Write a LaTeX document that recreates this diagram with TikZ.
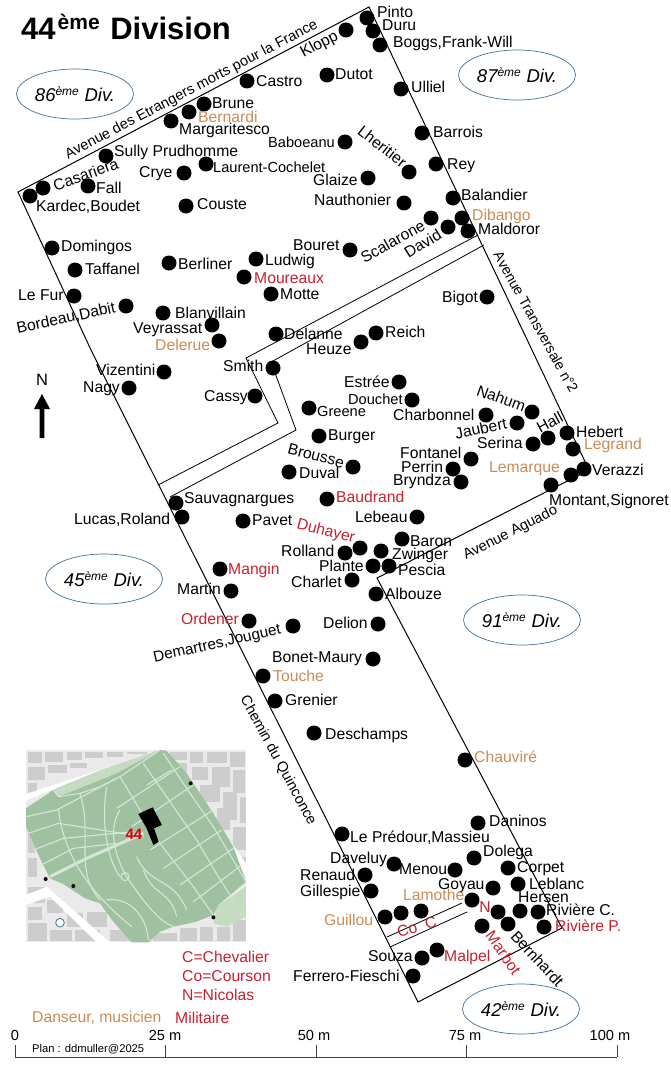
\documentclass[tikz,border=0pt]{standalone}
\usepackage{fontspec}
\setmainfont{Liberation Sans}
\usetikzlibrary{shapes.geometric}
\definecolor{ora}{HTML}{CC8B55}
\definecolor{rd}{HTML}{C8202F}
\definecolor{ell}{HTML}{41719C}
\definecolor{mapbg}{HTML}{EAEAEA}
\definecolor{mapbl}{HTML}{CDCDCD}
\definecolor{park}{HTML}{9FC1A0}
\definecolor{parkl}{HTML}{D6E6D6}
\definecolor{lawn}{HTML}{C6DCC2}
\newcounter{lab}
\newcommand{\gd}[3]{\node[gdot] (#1) at (#2,#3) {};}
\newcommand{\tl}[4][]{\stepcounter{lab}\node[lab,#1] (t\thelab) at (#2,#3) {#4};}
\newcommand{\tr}[5][]{\stepcounter{lab}\node[lab,anchor=center,rotate=#4,#1] (t\thelab) at (#2,#3) {#5};}
\newcommand{\dv}[4]{\node[divell] (#1) at (#2,#3) {\fontsize{18.5}{20}\selectfont\itshape #4\textsuperscript{\fontsize{12}{12}\selectfont ème} Div.};}
\newcommand{\smf}{\fontsize{14.6}{16}\selectfont}
\tikzset{
 gdot/.style={circle,fill=black,draw=none,minimum size=15pt,inner sep=0pt},
 lab/.style={anchor=west,inner sep=0pt,text height=11pt,text depth=1pt,font=\fontsize{15.7}{17}\selectfont,black},
 or/.style={text=ora},
 re/.style={text=rd},
 outl/.style={draw=black,line width=1pt,line join=miter},
 thintwo/.style={draw=black,line width=.8pt},
 divell/.style={ellipse,draw=ell,line width=.7pt,minimum width=117pt,minimum height=50pt,inner sep=0pt},
 mp/.style={draw=parkl,line width=1.1pt},
 blk/.style={fill=mapbl,draw=none},
}
\begin{document}
\begin{tikzpicture}[x=1pt,y=-1pt]
\useasboundingbox (0,0) rectangle (671,1070);
% outline
\draw[outl] (18,192) -- (369,7) -- (589,470) -- (377,578) -- (562,928) -- (418,1002) -- (91,350) -- cycle;
\draw[thintwo] (478,235) -- (246,358) -- (278,423) -- (158,485);
\draw[thintwo] (484,245) -- (271,362) -- (296,430) -- (170,497);
\draw[thintwo] (387,937) -- (462,903);
\draw[thintwo] (390,947) -- (467,912);
% map
\begin{scope}[shift={(0,730)},scale=0.33333]
\fill[mapbg] (78,60) rectangle (738,637);
\foreach \a/\b/\c/\d in {85/65/125/100,135/65/190/95,200/65/245/90,255/65/310/85,320/65/370/82,380/65/440/72,85/110/135/150,145/105/200/130,210/100/260/115,85/160/110/190,510/65/560/90,570/65/610/100,520/100/560/125,620/65/680/100,690/65/735/110,575/110/625/150,635/110/690/170,700/120/735/190,600/165/660/215,670/185/710/270,720/200/738/280,650/235/690/300,700/290/738/360,85/310/105/370,85/385/110/440,715/380/738/430,85/470/135/520,85/530/125/570,140/510/190/550,85/580/140/632,150/600/215/632,200/550/250/590,225/600/300/632,260/545/320/590,330/600/390/632,460/610/530/632,540/595/590/632,600/590/640/632,650/590/690/632,700/570/738/632}
  \fill[blk] (\a,\b) rectangle (\c,\d);
\fill[white] (78,192) -- (480,60) -- (495,60) -- (300,120) -- (78,212) -- cycle;
\fill[white] (78,495) -- (140,470) -- (330,637) -- (290,637) -- (150,500) -- (78,525) -- cycle;
\fill[white] (500,60) -- (738,400) -- (738,440) -- (490,70) -- cycle;
\fill[lawn] (650,530) -- (738,470) -- (738,560) -- (680,590) -- (640,580) -- cycle;
\fill[park] (78,235) -- (160,180) -- (310,118) -- (480,60) -- (500,62) -- (560,130) -- (640,250) -- (700,350) -- (738,455) -- (655,525) -- (640,555) -- (590,575) -- (520,590) -- (480,605) -- (445,637) -- (395,637) -- (340,575) -- (300,520) -- (255,505) -- (190,462) -- (150,445) -- (120,385) -- (78,290) -- cycle;
\fill[lawn] (160,180) -- (310,118) -- (480,60) -- (345,132) -- (175,200) -- cycle;
\draw[mp] (160,180) -- (175,200) -- (240,190) -- (300,170) -- (360,140) -- (480,60);
\draw[mp] (360,140) -- (480,340) -- (580,470) -- (640,555);
\draw[mp] (430,100) -- (590,330) -- (655,440) -- (700,510);
\draw[mp] (490,70) -- (570,190) -- (640,290) -- (738,455);
\draw[mp] (350,235) -- (540,110);
\draw[mp] (395,290) -- (580,165);
\draw[mp] (450,360) -- (640,240);
\draw[mp] (490,415) -- (665,300);
\draw[mp] (540,465) -- (700,355);
\draw[mp] (580,515) -- (725,405);
\draw[mp] (440,165) -- (515,120);
\draw[mp] (78,260) -- (170,240) -- (350,145);
\draw[mp] (85,310) -- (175,280) -- (430,320);
\draw[mp] (100,360) -- (190,325) -- (400,305);
\draw[mp] (115,410) -- (220,355) -- (350,340);
\draw[mp,line width=3pt] (150,440) -- (260,385) -- (430,310);
\draw[mp] (175,235) .. controls (190,370) and (260,480) .. (395,590);
\draw[mp] (240,190) .. controls (280,320) and (220,420) .. (300,510);
\draw[mp] (320,170) .. controls (300,300) and (330,400) .. (360,440);
\draw[mp] (360,240) .. controls (320,300) and (350,390) .. (380,440);
\draw[mp] (380,440) .. controls (420,500) and (470,570) .. (520,590);
\draw[mp] (410,380) .. controls (450,470) and (520,440) .. (560,540);
\draw[mp] (430,420) .. controls (460,500) and (510,480) .. (530,560);
\draw[mp] (320,510) .. controls (390,500) and (440,560) .. (445,630);
\draw[mp] (375,440) circle (12);
\fill[black] (415,252) -- (458,232) -- (486,285) -- (462,295) -- (476,335) -- (460,345) -- (440,295) -- cycle;
\foreach \p in {(572,160),(137,447),(220,468),(640,562)} \fill[black] \p circle (6);
\fill[white] (180,578) circle (13);
\draw[ell,line width=.8pt] (180,578) circle (13);
\end{scope}
\node[font=\fontsize{15}{16}\selectfont\bfseries,text=red!85!black,inner sep=0pt] (m44) at (134,834) {44};
% title
\node[anchor=base west,inner sep=0pt,font=\fontsize{31}{33}\selectfont\bfseries] (title) at (21,40) {44\hspace{2pt}\raisebox{10pt}{\fontsize{21}{22}\selectfont ème}\hspace{2pt} Division};
% ellipses
\dv{d86}{75}{94}{86}
\dv{d87}{517}{75}{87}
\dv{d45}{104}{579}{45}
\dv{d91}{522}{620}{91}
\dv{d42}{521}{1009}{42}
% north
\node[inner sep=0pt,font=\fontsize{16.5}{17}\selectfont] (north) at (42,380) {N};
\coordinate (nt) at (42,394);
\fill[black] (nt) -- (50,409) -- (44.3,409) -- (44.3,438) -- (39.7,438) -- (39.7,409) -- (34,409) -- cycle;
% dots
\gd{a1}{30}{196}\gd{a2}{43}{188}\gd{a3}{88}{186}\gd{a4}{106}{156}\gd{a5}{171}{121}\gd{a6}{189}{112}\gd{a7}{204}{104}\gd{a8}{247}{81}\gd{a9}{327}{75}
\gd{a10}{184}{173}\gd{a11}{206}{164}\gd{a12}{186}{206}\gd{a13}{52}{248}\gd{a14}{75}{270}\gd{a15}{74}{296}\gd{a16}{126}{306}\gd{a17}{169}{263}\gd{a18}{256}{259}\gd{a19}{244}{277}\gd{a20}{271}{294}\gd{a21}{163}{313}\gd{a22}{212}{325}\gd{a23}{219}{341}\gd{a24}{276}{334}
\gd{b1}{367}{18}\gd{b2}{373}{31}\gd{b3}{380}{45}\gd{b4}{346}{30}\gd{b5}{401}{89}\gd{b6}{422}{133}\gd{b7}{436}{164}\gd{b8}{345}{142}\gd{b9}{409}{172}\gd{b10}{368}{178}\gd{b11}{404}{203}\gd{b12}{453}{198}\gd{b13}{431}{218}\gd{b14}{462}{218}\gd{b15}{448}{227}\gd{b16}{468}{231}\gd{b17}{350}{250}\gd{b18}{487}{297}\gd{b19}{376}{333}\gd{b20}{361}{342}
\gd{c1}{164}{372}\gd{c2}{129}{388}\gd{c3}{273}{368}\gd{c4}{255}{396}\gd{c5}{309}{408}\gd{c6}{319}{436}\gd{c7}{289}{472}\gd{c8}{327}{499}\gd{c9}{176}{503}\gd{c10}{182}{517}\gd{c11}{243}{521}\gd{c12}{220}{569}\gd{c13}{231}{591}\gd{c14}{249}{621}\gd{c15}{293}{626}\gd{c16}{263}{676}\gd{c17}{275}{701}\gd{c18}{314}{733}
\gd{e1}{399}{382}\gd{e2}{412}{400}\gd{e3}{486}{415}\gd{e4}{532}{412}\gd{e5}{517}{423}\gd{e6}{548}{438}\gd{e7}{533}{444}\gd{e8}{567}{433}\gd{e9}{573}{449}\gd{e10}{471}{459}\gd{e11}{453}{469}\gd{e12}{461}{482}\gd{e13}{584}{469}\gd{e14}{571}{475}\gd{e15}{551}{485}\gd{e16}{353}{467}\gd{e17}{417}{517}\gd{e18}{402}{539}\gd{e19}{360}{548}\gd{e20}{345}{553}\gd{e21}{381}{551}\gd{e22}{373}{566}\gd{e23}{389}{566}\gd{e24}{352}{580}\gd{e25}{376}{594}\gd{e26}{378}{624}\gd{e27}{373}{659}
\gd{f0}{465}{760}\gd{f1}{478}{823}\gd{f2}{342}{834}\gd{f3}{474}{858}\gd{f4}{508}{868}\gd{f5}{394}{864}\gd{f6}{455}{870}\gd{f7}{365}{875}\gd{f8}{518}{884}\gd{f9}{493}{888}\gd{f10}{371}{891}\gd{f11}{472}{900}\gd{f12}{385}{917}\gd{f13}{401}{913}\gd{f14}{421}{911}\gd{f15}{498}{912}\gd{f16}{520}{911}\gd{f17}{538}{912}\gd{f18}{544}{927}\gd{f19}{482}{926}\gd{f20}{508}{924}\gd{f21}{422}{958}\gd{f22}{437}{950}\gd{f23}{413}{976}
% labels
\tl{256}{82}{Castro}\tl{335}{75}{Dutot}\tl{212}{104}{Brune}\tl[or]{198}{117}{Bernardi}\tl{179}{130}{Margaritesco}\tl[font=\smf]{268}{142}{Baboeanu}\tl{114}{151}{Sully Prudhomme}\tl{139}{172}{Crye}\tl[font=\smf]{213}{167}{Laurent-Cochelet}
\tr{86}{175}{20}{Casariera}\tl{96}{188}{Fall}\tl{36}{206}{Kardec,Boudet}\tl{197}{204}{Couste}\tl{61}{246}{Domingos}\tl{85}{269}{Taffanel}\tl{18}{295}{Le Fur}
\tr{66}{318}{12}{Bordeau,Dabit}\tl{178}{264}{Berliner}\tl{265}{260}{Ludwig}\tl[re]{254}{278}{Moureaux}\tl{280}{294}{Motte}\tl{175}{313}{Blanvillain}\tl{133}{328}{Veyrassat}\tl[or]{155}{345}{Delerue}\tl{284}{334}{Delanne}\tl{306}{349}{Heuze}\tl{293}{245}{Bouret}
\tr[font=\smf]{191}{89}{27.7}{Avenue des Etrangers morts pour la France}
\tl{377}{13}{Pinto}\tl{382}{26}{Duru}\tl{393}{43}{Boggs,Frank-Will}\tr{319}{44}{28}{Klopp}\tl{411}{88}{Ulliel}\tl{433}{132}{Barrois}\tl{447}{164}{Rey}\tr{382}{147}{-38}{Lheritier}\tl{313}{180}{Glaize}\tl{314}{200}{Nauthonier}\tl{461}{195}{Balandier}\tl[or]{472}{215}{Dibango}\tl{478}{229}{Maldoror}\tr{393}{242}{29}{Scalarone}\tr{423}{244}{32}{David}\tl{442}{297}{Bigot}\tl{385}{332}{Reich}
\tr[font=\fontsize{14.2}{16}\selectfont]{536}{322}{-61}{Avenue Transversale n°2}
\tl{96}{370}{Vizentini}\tl{83}{387}{Nagy}\tl{223}{366}{Smith}\tl{204}{396}{Cassy}\tl[font=\smf]{317}{411}{Greene}\tl{328}{435}{Burger}\tr{316}{456}{-15}{Brousse}\tl{299}{473}{Duval}\tl[re]{336}{497}{Baudrand}\tl{184}{498}{Sauvagnargues}\tl{74}{519}{Lucas,Roland}\tl{252}{520}{Pavet}\tr[re]{326}{531}{-14}{Duhayer}\tl{281}{551}{Rolland}\tl[re]{228}{569}{Mangin}\tl{319}{566}{Plante}\tl{291}{582}{Charlet}\tl{177}{589}{Martin}\tl[re]{181}{619}{Ordener}\tr[font=\fontsize{15.3}{17}\selectfont]{217}{643}{12.6}{Demartres,Jouguet}\tl{272}{657}{Bonet-Maury}\tl[or]{273}{676}{Touche}\tl{285}{700}{Grenier}\tr[font=\smf]{279}{760}{-61.5}{Chemin du Quinconce}\tl{325}{734}{Deschamps}
\tl{344}{382}{Estrée}\tl[font=\smf]{348}{399}{Douchet}\tl{393}{415}{Charbonnel}\tr{501}{399}{-20}{Nahum}\tr{481}{429}{12}{Jaubert}\tr{550}{423}{28}{Hall}\tl{477}{443}{Serina}\tl{576}{432}{Hebert}\tl[or]{584}{444}{Legrand}\tl[or]{489}{467}{Lemarque}\tl{592}{470}{Verazzi}\tl{549}{500}{Montant,Signoret}\tl{400}{453}{Fontanel}\tl{401}{467}{Perrin}\tl{393}{480}{Bryndza}\tl{355}{517}{Lebeau}\tl{410}{541}{Baron}\tl{392}{554}{Zwinger}\tl{398}{570}{Pescia}\tl{385}{594}{Albouze}\tl{323}{623}{Delion}\tr[font=\smf]{510}{532}{27}{Avenue Aguado}
\tl[or]{474}{757}{Chauviré}\tl{489}{821}{Daninos}\tl{350}{837}{Le Prédour,Massieu}\tl{483}{851}{Dolega}\tl{517}{867}{Corpet}\tl{330}{858}{Daveluy}\tl{399}{869}{Menou}\tl{300}{875}{Renaud}\tl{529}{884}{Leblanc}\tl{438}{884}{Goyau}\tl{300}{891}{Gillespie}\tl[or]{403}{895}{Lamothe}\tl[or]{324}{920}{Guillou}\tr[re]{417}{927}{15}{Co\ \ C}\tl{518}{897}{Hersen}\tr[re]{485}{907}{0}{N}\tl{546}{910}{Rivière C.}\tl[re]{555}{926}{Rivière P.}\tr[re]{503}{953}{-55}{Marbot}\tr{537}{959}{-47}{Bernhardt}\tl[re]{444}{956}{Malpel}\tl{368}{956}{Souza}\tl{293}{976}{Ferrero-Fieschi}
% legend
\tl[re]{182}{957}{C=Chevalier}\tl[re]{182}{976}{Co=Courson}\tl[re]{182}{995}{N=Nicolas}\tl[or]{32}{1017}{Danseur, musicien}\tl[re]{175}{1018}{Militaire}
% scale
\tr[font=\smf]{15}{1035}{0}{0}\tr[font=\smf]{165}{1035}{0}{25 m}\tr[font=\smf]{314}{1035}{0}{50 m}\tr[font=\smf]{465}{1035}{0}{75 m}\tr[font=\smf]{610}{1035}{0}{100 m}
\tl[font=\fontsize{11.2}{12}\selectfont]{32}{1047}{Plan : ddmuller@2025}
\coordinate (s0) at (15,1057);\coordinate (s1) at (165.5,1057);\coordinate (s2) at (316,1057);\coordinate (s3) at (466.5,1057);\coordinate (s4) at (617,1057);
\draw[line width=1pt,black!75] (s0) -- (s4);
\foreach \s in {s0,s1,s2,s3,s4} \draw[line width=1pt,black!75] (\s) -- ++(0,-12);
\end{tikzpicture}
\end{document}
